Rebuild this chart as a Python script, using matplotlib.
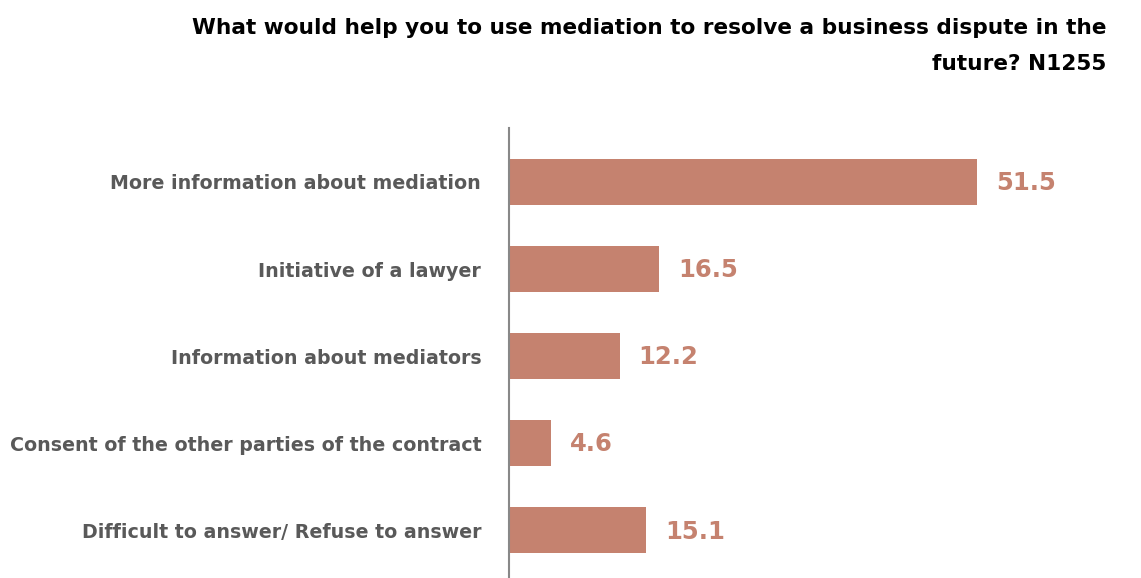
import matplotlib.pyplot as plt

categories = [
    'More information about mediation',
    'Initiative of a lawyer',
    'Information about mediators',
    'Consent of the other parties of the contract',
    'Difficult to answer/ Refuse to answer',
]
values = [51.5, 16.5, 12.2, 4.6, 15.1]

bar_color = '#C5826F'
label_color = '#595959'

fig = plt.figure(figsize=(11.41, 5.78), dpi=100)
ax = fig.add_axes([509 / 1141, 0.0, (1100 - 509) / 1141, 1 - 128 / 578])

ypos = list(range(len(categories)))
ax.barh(ypos, values, height=0.53, color=bar_color)

for y, v in zip(ypos, values):
    ax.annotate(f'{v}', xy=(v, y), xytext=(13.5, -1), textcoords='offset points',
                va='center', ha='left', fontsize=17.5, fontweight='bold',
                color=bar_color)

ax.set_xlim(0, 65)
ax.set_ylim(4.55, -0.62)
ax.set_yticks(ypos)
ax.set_yticklabels(categories, fontsize=13.65, fontweight='bold', color=label_color)
ax.tick_params(axis='y', length=0, pad=20)
ax.set_xticks([])

for side in ['top', 'right', 'bottom']:
    ax.spines[side].set_visible(False)
ax.spines['left'].set_color('#888888')
ax.spines['left'].set_linewidth(1.5)

fig.text(1106 / 1141, 1 - 18 / 578,
         'What would help you to use mediation to resolve a business dispute in the\nfuture? N1255',
         ha='right', va='top', fontsize=15.6, fontweight='bold', color='black',
         linespacing=1.97)

fig.savefig('out.png', dpi=100)
